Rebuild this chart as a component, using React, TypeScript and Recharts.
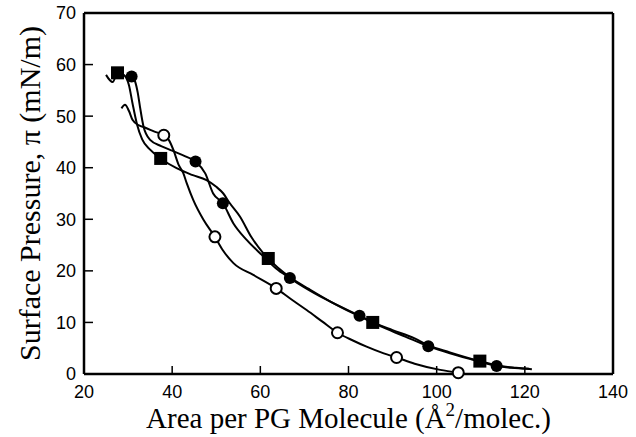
import React from "react";
import { ComposedChart, Line, Scatter, XAxis, YAxis } from "recharts";

// isotherm traces, [area, pressure]
const squareCurve = [
  [25.0, 58.0], [26.5, 56.6], [27.6, 58.4], [29.0, 58.0], [30.2, 56.0], [31.0, 52.5],
  [32.0, 48.5], [33.2, 45.5], [35.0, 43.5], [37.4, 41.8], [41.0, 39.9], [44.5, 38.6],
  [47.8, 37.6], [50.0, 36.3], [51.6, 35.0], [53.0, 33.2], [55.4, 30.5], [58.0, 26.5],
  [60.7, 23.4], [61.8, 22.4], [64.0, 20.6], [67.0, 18.6], [71.0, 16.5], [76.0, 14.0],
  [81.0, 11.8], [85.5, 10.0], [90.0, 8.5], [95.0, 6.9], [98.0, 5.6], [103.0, 4.2],
  [109.8, 2.5], [113.6, 1.7], [118.0, 1.2], [121.6, 0.9],
];
const filledCircleCurve = [
  [30.8, 57.7], [31.6, 56.7], [32.2, 54.5], [32.7, 51.8], [33.5, 48.0], [35.0, 45.4],
  [37.5, 44.2], [40.0, 43.3], [43.0, 42.2], [45.3, 41.2], [47.5, 38.9], [49.3, 35.0],
  [51.5, 33.1], [53.9, 29.2], [56.9, 26.0], [60.7, 22.8], [63.5, 20.5], [66.7, 18.6],
  [70.0, 16.8], [75.0, 14.4], [82.5, 11.3], [88.0, 9.0], [93.0, 7.2], [98.1, 5.4],
  [103.0, 4.0], [108.0, 2.8], [113.6, 1.55], [117.0, 1.2], [121.0, 1.0],
];
const openCircleCurve = [
  [28.5, 51.5], [29.3, 52.2], [30.2, 51.0], [31.0, 49.3], [32.5, 48.2], [33.8, 47.8],
  [36.0, 47.0], [38.1, 46.3], [39.3, 45.3], [40.3, 43.4], [41.5, 40.5], [42.5, 39.0],
  [43.3, 37.0], [44.8, 33.7], [47.1, 29.9], [49.7, 26.6], [51.5, 24.0], [53.9, 21.5],
  [58.4, 19.2], [63.6, 16.6], [67.0, 14.5], [70.5, 12.4], [74.0, 10.2], [77.5, 8.0],
  [81.0, 6.5], [84.1, 5.3], [88.0, 4.0], [90.9, 3.2], [95.0, 2.0], [100.8, 0.8],
  [104.9, 0.25],
];

// marker positions
const squareMarks = [[27.6, 58.4], [37.4, 41.8], [61.8, 22.4], [85.5, 10.0], [109.8, 2.5]];
const filledCircleMarks = [
  [30.8, 57.7], [45.3, 41.2], [51.5, 33.1], [66.7, 18.6], [82.5, 11.3], [98.1, 5.4], [113.6, 1.55],
];
const openCircleMarks = [[38.1, 46.3], [49.7, 26.6], [63.6, 16.6], [77.5, 8.0], [90.9, 3.2], [104.9, 0.25]];

const xMajor = [20, 40, 60, 80, 100, 120, 140];
const xMinor = [25, 30, 35, 45, 50, 55, 65, 70, 75, 85, 90, 95, 105, 110, 115, 125, 130, 135];
const yMajor = [0, 10, 20, 30, 40, 50, 60, 70];
const yMinor = [2, 4, 6, 8, 12, 14, 16, 18, 22, 24, 26, 28, 32, 34, 36, 38, 42, 44, 46, 48, 52, 54, 56, 58, 62, 64, 66, 68];

const toPts = (arr: number[][]) => arr.map(([x, y]) => ({ x, y }));

const SANS = "'Liberation Sans', Arial, Helvetica, sans-serif";
const SERIF = "'Liberation Serif', 'Times New Roman', serif";
const INK = "#000";

// tick label props arrive at the inner end of the (inward) tick line
const XLabel = ({ x, y, payload }: any) => (
  <text x={x} y={y + 31.5} textAnchor="middle" fontSize={18} fontFamily={SANS} fill={INK}>
    {payload.value}
  </text>
);

const YLabel = ({ x, y, payload }: any) => (
  <text x={x - 17} y={y} dy="0.36em" textAnchor="end" fontSize={18} fontFamily={SANS} fill={INK}>
    {payload.value}
  </text>
);

const Square = ({ cx, cy }: any) => <rect x={cx - 6.5} y={cy - 6.5} width={13} height={13} fill={INK} />;
const Dot = ({ cx, cy }: any) => <circle cx={cx} cy={cy} r={6} fill={INK} />;
const Ring = ({ cx, cy }: any) => <circle cx={cx} cy={cy} r={5.5} fill="#fff" stroke={INK} strokeWidth={2} />;

const XTitle = ({ viewBox }: any) => {
  const cx = viewBox.x + viewBox.width / 2;
  return (
    <text x={cx} y={viewBox.y + 54} textAnchor="middle" fontSize={29} fontFamily={SERIF} fill={INK}>
      Area per PG Molecule (Å<tspan dy={-12} fontSize={19}>2</tspan>
      <tspan dy={12}>/molec.)</tspan>
    </text>
  );
};

const YTitle = ({ viewBox }: any) => {
  const cy = viewBox.y + viewBox.height / 2;
  const cx = 40;
  return (
    <text
      x={cx}
      y={cy}
      transform={`rotate(-90, ${cx}, ${cy})`}
      textAnchor="middle"
      fontSize={30}
      fontFamily={SERIF}
      fill={INK}
    >
      Surface Pressure, π (mN/m)
    </text>
  );
};

const frame = { stroke: INK, strokeWidth: 2.5 };
const tickStroke = { stroke: INK, strokeWidth: 1.5 };

export default function App() {
  return (
    <div style={{ position: "absolute", left: 0, top: 0, background: "#fff" }}>
      <ComposedChart width={636} height={437} margin={{ top: 11, right: 21, bottom: 61, left: 82 }}>
        {/* bottom: labelled major ticks, then short minor ticks */}
        <XAxis xAxisId={0} dataKey="x" type="number" domain={[20, 140]} ticks={xMajor} interval={0}
          height={1} tickSize={-8} tickMargin={0} tickLine={tickStroke} tick={<XLabel />}
          axisLine={frame} label={<XTitle />} />
        <XAxis xAxisId="bm" dataKey="x" type="number" domain={[20, 140]} ticks={xMinor} interval={0}
          height={1} tickSize={-6} tickLine={tickStroke} tick={false} axisLine={false} />
        {/* top */}
        <XAxis xAxisId="t" orientation="top" dataKey="x" type="number" domain={[20, 140]} ticks={xMajor} interval={0}
          height={1} tickSize={-8} tickLine={tickStroke} tick={false} axisLine={frame} />
        <XAxis xAxisId="tm" orientation="top" dataKey="x" type="number" domain={[20, 140]} ticks={xMinor} interval={0}
          height={1} tickSize={-6} tickLine={tickStroke} tick={false} axisLine={false} />
        {/* left */}
        <YAxis yAxisId={0} dataKey="y" type="number" domain={[0, 70]} ticks={yMajor} interval={0}
          width={1} tickSize={-9} tickMargin={0} tickLine={tickStroke} tick={<YLabel />}
          axisLine={frame} label={<YTitle />} />
        <YAxis yAxisId="lm" dataKey="y" type="number" domain={[0, 70]} ticks={yMinor} interval={0}
          width={1} tickSize={-6} tickLine={tickStroke} tick={false} axisLine={false} />
        {/* right */}
        <YAxis yAxisId="r" orientation="right" dataKey="y" type="number" domain={[0, 70]} ticks={yMajor} interval={0}
          width={1} tickSize={-9} tickLine={tickStroke} tick={false} axisLine={frame} />
        <YAxis yAxisId="rm" orientation="right" dataKey="y" type="number" domain={[0, 70]} ticks={yMinor} interval={0}
          width={1} tickSize={-6} tickLine={tickStroke} tick={false} axisLine={false} />

        <Line data={toPts(squareCurve)} dataKey="y" type="monotone" dot={false} stroke={INK} strokeWidth={2} isAnimationActive={false} />
        <Line data={toPts(filledCircleCurve)} dataKey="y" type="monotone" dot={false} stroke={INK} strokeWidth={2} isAnimationActive={false} />
        <Line data={toPts(openCircleCurve)} dataKey="y" type="monotone" dot={false} stroke={INK} strokeWidth={2} isAnimationActive={false} />
        <Scatter data={toPts(squareMarks)} dataKey="y" shape={<Square />} isAnimationActive={false} />
        <Scatter data={toPts(filledCircleMarks)} dataKey="y" shape={<Dot />} isAnimationActive={false} />
        <Scatter data={toPts(openCircleMarks)} dataKey="y" shape={<Ring />} isAnimationActive={false} />
      </ComposedChart>
    </div>
  );
}
